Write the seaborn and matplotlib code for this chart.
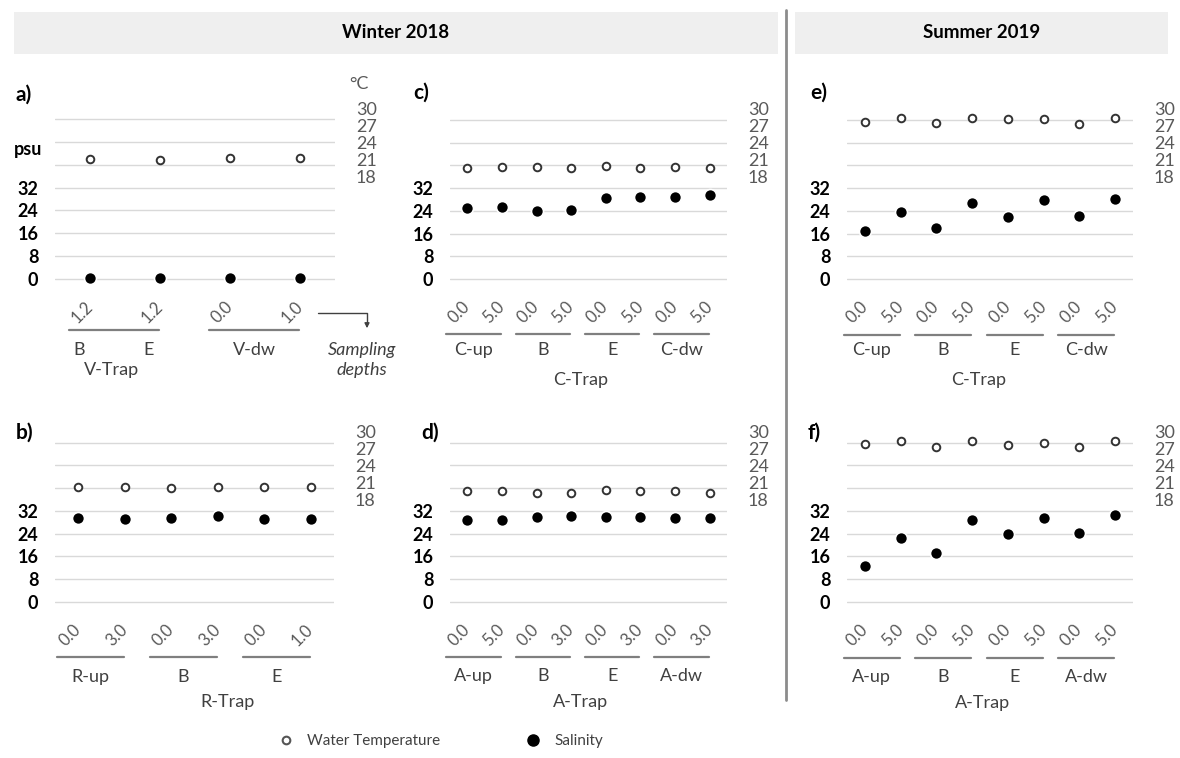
import numpy as np
import pandas as pd
import matplotlib
matplotlib.use("Agg")
import matplotlib.pyplot as plt
import matplotlib.transforms as mtransforms
from matplotlib.patches import Rectangle, FancyArrowPatch
from matplotlib.lines import Line2D
import seaborn as sns

sns.set_theme(style="white")
plt.rcParams['font.family'] = ['Lato', 'DejaVu Sans']

W, H = 1180, 758

# ---------------- data ----------------
a_depth = ["1.2", "1.2", "0.0", "1.0"]
a_sal = [0.3, 0.3, 0.2, 0.3]
a_temp = [21.1, 20.9, 21.3, 21.3]

b_depth = ["0.0", "3.0", "0.0", "3.0", "0.0", "1.0"]
b_sal = [29.6, 29.3, 29.6, 30.1, 29.3, 29.3]
b_temp = [20.2, 20.2, 20.0, 20.2, 20.2, 20.2]

c_depth = ["0.0", "5.0", "0.0", "5.0", "0.0", "5.0", "0.0", "5.0"]
c_sal = [25.1, 25.4, 23.9, 24.3, 28.6, 29.0, 29.0, 29.5]
c_temp = [19.5, 19.7, 19.7, 19.6, 19.95, 19.6, 19.8, 19.5]

d_depth = ["0.0", "5.0", "0.0", "3.0", "0.0", "3.0", "0.0", "3.0"]
d_sal = [28.7, 28.9, 29.9, 30.1, 29.9, 29.9, 29.5, 29.5]
d_temp = [19.5, 19.5, 19.2, 19.2, 19.6, 19.4, 19.4, 19.2]

e_depth = ["0.0", "5.0", "0.0", "5.0", "0.0", "5.0", "0.0", "5.0"]
e_sal = [16.9, 23.5, 18.1, 26.9, 21.7, 27.8, 22.3, 28.1]
e_temp = [27.7, 28.3, 27.5, 28.3, 28.1, 28.1, 27.3, 28.3]

f_depth = ["0.0", "5.0", "0.0", "5.0", "0.0", "5.0", "0.0", "5.0"]
f_sal = [12.7, 22.5, 17.3, 28.9, 24.0, 29.5, 24.3, 30.7]
f_temp = [27.8, 28.2, 27.2, 28.2, 27.5, 27.95, 27.2, 28.2]

a_groups = [("B", 0, 0), ("E", 1, 1), ("V-dw", 2, 3)]
a_lines = [(0, 1), (2, 3)]
b_groups = [("R-up", 0, 1), ("B", 2, 3), ("E", 4, 5)]
c_groups = [("C-up", 0, 1), ("B", 2, 3), ("E", 4, 5), ("C-dw", 6, 7)]
d_groups = [("A-up", 0, 1), ("B", 2, 3), ("E", 4, 5), ("A-dw", 6, 7)]
e_groups = [("C-up", 0, 1), ("B", 2, 3), ("E", 4, 5), ("C-dw", 6, 7)]
f_groups = [("A-up", 0, 1), ("B", 2, 3), ("E", 4, 5), ("A-dw", 6, 7)]

sal_ticks = [0, 8, 16, 24, 32]
temp_ticks = [18, 21, 24, 27, 30]

panels = [
    dict(tag="a)", depth=a_depth, sal=a_sal, temp=a_temp, groups=a_groups, lines=a_lines,
         trap="V-Trap", trap_x=0.31, geom=(55, 335, 278.5, 119.5), tagpos=(16, 95),
         ypx=(330, 350, 370)),
    dict(tag="b)", depth=b_depth, sal=b_sal, temp=b_temp, groups=b_groups, lines=None,
         trap="R-Trap", trap_x=3.22, geom=(55, 334, 602, 442.5), tagpos=(16, 433),
         ypx=(657, 677, 702)),
    dict(tag="c)", depth=c_depth, sal=c_sal, temp=c_temp, groups=c_groups, lines=None,
         trap="C-Trap", trap_x=3.27, geom=(450, 727, 279, 120), tagpos=(413, 93),
         ypx=(334, 350, 380)),
    dict(tag="d)", depth=d_depth, sal=d_sal, temp=d_temp, groups=d_groups, lines=None,
         trap="A-Trap", trap_x=3.27, geom=(450, 727, 602, 442.5), tagpos=(421, 433),
         ypx=(657, 676, 702)),
    dict(tag="e)", depth=e_depth, sal=e_sal, temp=e_temp, groups=e_groups, lines=None,
         trap="C-Trap", trap_x=3.17, geom=(847, 1133, 279, 120), tagpos=(810, 93),
         ypx=(335, 350, 380)),
    dict(tag="f)", depth=f_depth, sal=f_sal, temp=f_temp, groups=f_groups, lines=None,
         trap="A-Trap", trap_x=3.29, geom=(847, 1133, 602, 442.5), tagpos=(808, 433),
         ypx=(658, 677, 703)),
]

fig = plt.figure(figsize=(W / 100, H / 100), dpi=100)
fig.patch.set_facecolor("white")


def fx(px):
    return px / W


def fy(py):
    return 1 - py / H


# header bands
fig.add_artist(Rectangle((fx(14), fy(54)), fx(778) - fx(14), fy(12) - fy(54),
                         transform=fig.transFigure, facecolor="#efefef", edgecolor="none"))
fig.add_artist(Rectangle((fx(795), fy(54)), fx(1168) - fx(795), fy(12) - fy(54),
                         transform=fig.transFigure, facecolor="#efefef", edgecolor="none"))
fig.text(fx(396), fy(33), "Winter 2018", ha="center", va="center", fontsize=13.5, fontweight="bold", color="black")
fig.text(fx(982), fy(33), "Summer 2019", ha="center", va="center", fontsize=13.5, fontweight="bold", color="black")
fig.add_artist(Line2D([fx(786), fx(786)], [fy(10), fy(700)], transform=fig.transFigure,
                      color="#8c8c8c", lw=2))

YLO, YHI = -3, 62
grey_txt = "#404040"

for p in panels:
    gx0, gx1, y0px, y56px = p["geom"]
    ppu = (y0px - y56px) / 56.0
    bot = y0px + (0 - YLO) * ppu
    top = y56px - (YHI - 56) * ppu
    ax = fig.add_axes([fx(gx0), fy(bot), (gx1 - gx0) / W, (bot - top) / H])
    n = len(p["depth"])
    df = pd.DataFrame({"pos": np.arange(n), "sal": p["sal"], "temp": p["temp"]})
    upx = n / (gx1 - gx0)  # data units per pixel

    ax.set_xlim(-0.5, n - 0.5)
    ax.set_ylim(YLO, YHI)
    ax.set_yticks(list(range(0, 57, 8)))
    ax.set_yticklabels([str(v) if v in sal_ticks else "" for v in range(0, 57, 8)])
    ax.grid(axis="y", color="#d9d9d9", lw=1)
    ax.grid(axis="x", visible=False)
    ax.set_axisbelow(True)
    for s in ax.spines.values():
        s.set_visible(False)
    ax.tick_params(axis="y", length=0, pad=12, labelsize=13, labelcolor="black")
    for t in ax.get_yticklabels():
        t.set_fontweight("bold")

    sns.scatterplot(data=df, x="pos", y="sal", ax=ax, s=75, color="black",
                    edgecolor="white", linewidth=1.2, zorder=3, legend=False)

    ax2 = ax.twinx()
    ax2.set_ylim(YLO / 2, YHI / 2)
    sns.scatterplot(data=df, x="pos", y="temp", ax=ax2, s=30, facecolor="white",
                    edgecolor="#333333", linewidth=1.4, zorder=3, legend=False)
    ax2.set_yticks(temp_ticks)
    ax2.set_yticklabels([str(v) for v in temp_ticks])
    ax2.tick_params(axis="y", length=0, pad=15, labelsize=13, labelcolor="#595959")
    ax2.grid(False)
    for s in ax2.spines.values():
        s.set_visible(False)
    ax2.set_ylabel("")

    ax.set_xticks(range(n))
    ax.set_xticklabels(p["depth"], rotation=45, ha="right", va="center",
                       rotation_mode="anchor", color="#595959", fontsize=12)
    ax.tick_params(axis="x", length=0, pad=12)
    ax.set_xlabel("")
    ax.set_ylabel("")
    ax.set_xlim(-0.5, n - 0.5)

    trans = mtransforms.blended_transform_factory(ax.transData, fig.transFigure)
    ly, gy, ty = p["ypx"]
    lines = p["lines"] if p["lines"] is not None else [(g[1], g[2]) for g in p["groups"]]
    for i0, i1 in lines:
        ax.add_line(Line2D([i0 - 21 * upx, i1 - 1 * upx], [fy(ly), fy(ly)], transform=trans,
                           color="#7f7f7f", lw=1.6, clip_on=False))
    for name, i0, i1 in p["groups"]:
        ax.text((i0 + i1) / 2 - 11 * upx, fy(gy), name, transform=trans, ha="center", va="center",
                fontsize=13, color=grey_txt, clip_on=False)
    ax.text(p["trap_x"], fy(ty), p["trap"], transform=trans, ha="center", va="center",
            fontsize=13, color=grey_txt, clip_on=False)

    fig.text(fx(p["tagpos"][0]), fy(p["tagpos"][1]), p["tag"], ha="left", va="center",
             fontsize=15, fontweight="bold", color="black")

    if p["tag"] == "a)":
        ax.text(-0.5 - 13 * upx, 45.5, "psu", ha="right", va="center", fontsize=13,
                fontweight="bold", color="black", clip_on=False)
        ax2.text(n - 0.5 + 14 * upx, 34.3, "°C", ha="left", va="center", fontsize=13,
                 color="#595959", clip_on=False)

# arrow to "Sampling depths"
fig.add_artist(Line2D([fx(318), fx(367), fx(367)], [fy(313), fy(313), fy(324)],
                      transform=fig.transFigure, color="#404040", lw=1))
fig.add_artist(FancyArrowPatch((fx(367), fy(322)), (fx(367), fy(331)),
                               transform=fig.transFigure, arrowstyle="-|>",
                               mutation_scale=7, color="#404040", lw=1))
fig.text(fx(362), fy(350), "Sampling", ha="center", va="center", fontsize=13,
         fontstyle="italic", color=grey_txt)
fig.text(fx(362), fy(370), "depths", ha="center", va="center", fontsize=13,
         fontstyle="italic", color=grey_txt)

# legend
handles = [
    Line2D([], [], ls="", marker="o", markersize=5.5, markerfacecolor="white",
           markeredgecolor="#555555", markeredgewidth=1.5),
    Line2D([], [], ls="", marker="o", markersize=8, markerfacecolor="black",
           markeredgecolor="black"),
]
fig.legend(handles, ["Water Temperature", "Salinity"], loc="center",
           bbox_to_anchor=(fx(440), fy(741)), ncol=2, frameon=False, fontsize=11,
           labelcolor="#404040", columnspacing=5.5, handletextpad=0.8, handlelength=1.2)

fig.savefig("out.png", dpi=100, facecolor="white")
